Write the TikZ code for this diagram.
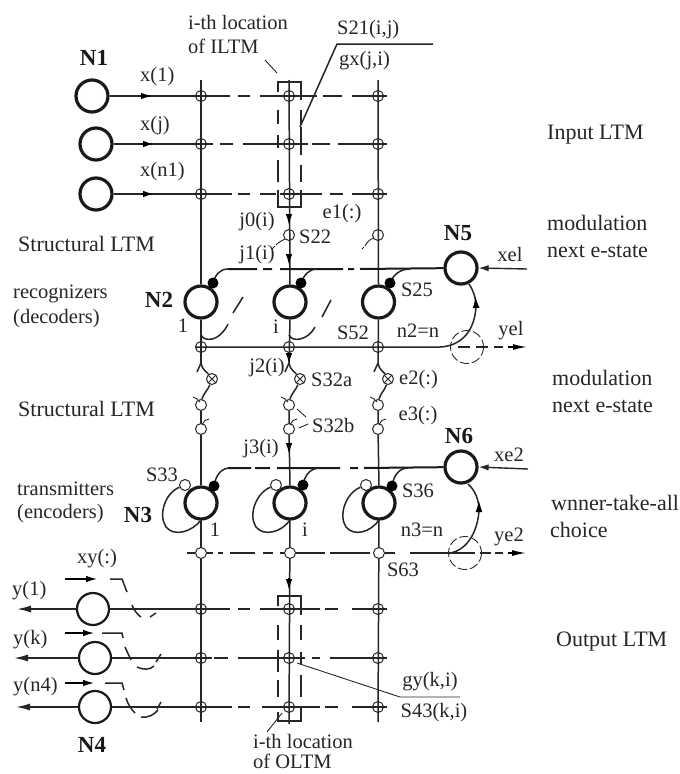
\documentclass[tikz,border=0pt]{standalone}
\usepackage{fontspec}
\setmainfont{Liberation Serif}
\usetikzlibrary{arrows.meta}
\tikzset{
 neuron/.style={circle,draw=black!90,line width=3.2pt,minimum size=32pt,inner sep=0pt,fill=white},
 outneuron/.style={circle,draw=black!90,line width=2.2pt,minimum size=32pt,inner sep=0pt,fill=white},
 syn/.style={circle,draw=black!85,line width=1pt,minimum size=11pt,inner sep=0pt},
 opensyn/.style={syn,fill=white},
 crosssyn/.style={syn,path picture={\draw[line width=1pt] (path picture bounding box.north west)--(path picture bounding box.south east) (path picture bounding box.north east)--(path picture bounding box.south west);}},
 dotsyn/.style={circle,fill=black,minimum size=11pt,inner sep=0pt},
 wire/.style={line width=1.5pt,draw=black!85},
 bus/.style={line width=2pt,draw=black!90},
 thin wire/.style={line width=0.9pt,draw=black!85},
 head/.style={-{Latex[length=11pt,width=6.5pt]},line width=1.2pt},
 lab/.style={inner sep=0pt,font=\fontsize{20.5}{22}\selectfont,text=black!85},
 llab/.style={lab,anchor=west},
 wlab/.style={llab,font=\fontsize{22}{24}\selectfont},
 big/.style={inner sep=0pt,font=\fontsize{23}{25}\selectfont\bfseries,text=black!90},
}
\begin{document}
\begin{tikzpicture}[x=1pt,y=-1pt]
\useasboundingbox (0,0) rectangle (680,774);
\fill[white] (0,0) rectangle (680,774);
% input neurons
\node[neuron] (n11) at (92,96) {};
\node[neuron] (n12) at (96,144) {};
\node[neuron] (n13) at (96,194) {};
% recogniser, transmitter, control neurons
\node[neuron] (n21) at (201,302) {};
\node[neuron] (n22) at (290,302) {};
\node[neuron] (n23) at (378.5,302) {};
\node[neuron] (n5) at (461,268) {};
\node[neuron] (n31) at (201,503) {};
\node[neuron] (n32) at (290,503) {};
\node[neuron] (n33) at (379,503) {};
\node[neuron] (n6) at (461,467) {};
\node[outneuron] (n41) at (93,609) {};
\node[outneuron] (n42) at (95,658) {};
\node[outneuron] (n43) at (95,707) {};
% column end points
\coordinate (c1t) at (201,80); \coordinate (c2t) at (289,80); \coordinate (c3t) at (378,80);
\coordinate (c1b) at (201,722); \coordinate (c2b) at (289,724); \coordinate (c3b) at (378,722);
% crossing synapses
\foreach \n/\x in {a/201,b/289,c/378}{
 \node[syn] (\n1) at (\x,96) {};
 \node[syn] (\n2) at (\x,144) {};
 \node[syn] (\n3) at (\x,194) {};
 \node[syn] (\n5) at (\x,347) {};
 \node[syn] (\n6) at (\x,405) {};
 \node[syn] (\n7) at (\x,429) {};
 \node[syn] (\n9) at (\x,609) {};
 \node[syn] (\n0) at (\x,658) {};
 \node[syn] (\n x) at (\x,707) {};
}
\node[syn] (b4) at (289,235) {};
\node[syn] (c4) at (378,235) {};
\node[crosssyn] (a8) at (212,379) {};
\node[crosssyn] (b8) at (300,379) {};
\node[crosssyn] (c8) at (388,379) {};
% vertical wires
\draw[wire] (c1t) -- (n21.north) (n21.south) -- (201,363) (a6) -- (a7) -- (n31.north) (n31.south) -- (c1b);
\draw[wire] (c2t) -- (n22.north) (n22.south) -- (289,363) (b6) -- (b7) -- (n32.north) (n32.south) -- (c2b);
\draw[wire] (c3t) -- (n23.north) (n23.south) -- (378,363) (c6) -- (c7) -- (n33.north) (n33.south) -- (c3b);
\foreach \n/\x in {a/201,b/289,c/378}{
 \draw[wire] (\x,363) .. controls (\x+1,370) and (\x+6,372) .. (\n8);
 \draw[wire] (\x,363) -- (\x-4,372);
 \draw[wire] (\n8) .. controls (\x+7,390) and (\x+2,394) .. (\n6);
 \draw[thin wire] (\x-8,397) .. controls (\x-5,398) and (\x-3,399) .. (\x-1,402);
 \draw[thin wire] (\x+1,425) .. controls (\x+3,421) and (\x+5,419) .. (\x+8,419);
}
% input rows
\draw[wire] (n11) -- (230,96) (238,96)--(250,96) (260,96)--(317,96) (323,96)--(342,96) (352,96)--(387,96);
\draw[wire] (n12) -- (213,144) (220,144)--(233,144) (243,144)--(308,144) (312,144)--(330,144) (338,144)--(387,144);
\draw[wire] (n13) -- (232,194) (238,194)--(250,194) (260,194)--(276,194) (280,194)--(322,194) (330,194)--(343,194) (352,194)--(387,194);
\foreach \a/\b/\y in {140/152/96,141/154/144,141/154/194}{
 \draw[head] (\a,\y) -- (\b,\y);
}
% ILTM box
\draw[wire] (278,92) -- (278,82) -- (301,82) -- (301,100) (278,110)--(278,124) (301,110)--(301,124) (278,135)--(278,148) (301,135)--(301,155) (278,160)--(278,182) (301,165)--(301,182) (278,190) -- (278,207) -- (301,207) -- (301,190);
% S22 row
\draw[thin wire] (285,239) .. controls (281,241) and (279,242) .. (276,245) (275,246)--(272,249);
\draw[thin wire] (374,238) .. controls (370,239) and (367,242) .. (365,246) (364,247) -- (362,249);
% recogniser bus
\draw[bus] (n5) -- (360,269) (354,269)--(348,269) (343,269)--(280,269) (272,269)--(263,269) (257,269)--(228,269);
\draw[wire] (228,269) .. controls (220,269) and (215,275) .. (213,283);
\draw[wire] (317,269) .. controls (309,269) and (304,275) .. (301,283);
\draw[wire] (410,269) .. controls (400,269) and (393,275) .. (390,283);
\node[dotsyn] (d21) at (213,283) {};
\node[dotsyn] (d22) at (301,283) {};
\node[dotsyn] (d23) at (390,283) {};
\draw[wire] (201,335) .. controls (203,339) and (207,340) .. (212,339) .. controls (218,338) and (225,331) .. (228,324);
\draw[wire] (233,313) -- (243,297);
\draw[wire] (289,335) .. controls (291,339) and (295,340) .. (300,339) .. controls (306,338) and (312,333) .. (315,327);
\draw[wire] (322,317) -- (331,300);
% lower bus and loop to N5
\draw[wire] (195,347) -- (440,347) .. controls (462,346) and (475,330) .. (476,306) .. controls (476,298) and (473,290) .. (469,284);
\coordinate (xel) at (527,269);
\draw[-{Latex[length=10pt,width=6.5pt]},line width=1.4pt,draw=black!85] (xel) -- (n5.east);
\draw[-{Latex[length=11pt,width=7pt]},line width=1pt] (476,306) -- (475.5,297);
\draw[wire] (458,347) -- (470,347) (476,347) -- (488,347) (494,347) -- (503,347);
\draw[-{Latex[length=14pt,width=6pt]},line width=1.4pt] (508,347) -- (527,347);
\draw[thin wire,dash pattern=on 9pt off 3pt] (467,347) circle[radius=16.5];
% transmitter bus
\draw[bus] (n6) -- (364,468) (358,468)--(350,468) (340,468)--(277,468) (270,468)--(255,468) (251,468)--(228,468);
\draw[wire] (230,468) .. controls (222,468) and (216,474) .. (214,486);
\draw[wire] (320,468) .. controls (311,468) and (305,474) .. (303,485);
\draw[wire] (408,468) .. controls (400,468) and (394,474) .. (392,486);
\node[dotsyn] (d31) at (214,486) {};
\node[dotsyn] (d32) at (303,485) {};
\node[dotsyn] (d33) at (392,486) {};
\node[opensyn] (o31) at (185,485) {};
\node[opensyn] (o32) at (276,485) {};
\node[opensyn] (o33) at (366,485) {};
\draw[wire] (o31) .. controls (165,493) and (158,515) .. (166,527) .. controls (174,537) and (192,532) .. (201,520);
\draw[wire] (o32) .. controls (256,493) and (248,515) .. (256,527) .. controls (264,537) and (282,532) .. (290,520);
\draw[wire] (o33) .. controls (346,493) and (338,515) .. (346,527) .. controls (354,537) and (371,532) .. (379,520);
% lower row 553
\node[opensyn] (e1) at (201,553) {};
\node[opensyn] (e2) at (290,553) {};
\node[opensyn] (e3) at (379,553) {};
\draw[wire] (187,553) -- (e1) (e1) -- (213,553) (218,553)--(223,553) (230,553)--(255,553) (263,553)--(273,553) (280,553)--(e2) (e2)--(325,553) (330,553)--(370,553) (e3)--(395,553) (410,553)--(475,553) (480,553) -- (491,553) (495,553) -- (503,553);
\draw[-{Latex[length=14pt,width=6pt]},line width=1.4pt] (508,553) -- (526,553);
\draw[wire] (450,553) .. controls (468,550) and (478,530) .. (479,510) .. controls (479,500) and (475,490) .. (468,484);
\draw[-{Latex[length=11pt,width=7pt]},line width=1pt] (479,511) -- (479,501);
\draw[thin wire,dash pattern=on 9pt off 3pt] (465,553) circle[radius=16.5];
\coordinate (xe2) at (528,469);
\draw[-{Latex[length=10pt,width=6.5pt]},line width=1.4pt,draw=black!85] (xe2) -- (n6.east);
% column arrows
\foreach \a/\b in {214/225,254/265,353/364,443/454,578/590}{
 \draw[head] (289,\a) -- (289,\b);
}
% output rows
\draw[wire,-{Latex[length=14pt,width=7pt]}] (n41) -- (17,609);
\draw[wire,-{Latex[length=14pt,width=7pt]}] (n42) -- (14,658);
\draw[wire,-{Latex[length=14pt,width=7pt]}] (n43) -- (16,707);
\draw[wire] (n41) -- (230,609) (238,609)--(250,609) (260,609)--(320,609) (325,609)--(338,609) (352,609)--(387,609);
\draw[wire] (n42) -- (212,658) (214,658)--(228,658) (238,658)--(305,658) (312,658)--(320,658) (330,658)--(387,658);
\draw[wire] (n43) -- (232,707) (238,707)--(250,707) (262,707)--(320,707) (325,707)--(338,707) (352,707)--(387,707);
% xy(:) gates
\foreach \y/\xe in {579/97,633/94,683/94}{
 \draw[head,line width=1.2pt] (65,\y) -- (\xe,\y);
}
\draw[wire] (110,579)--(122,579)--(127,592) (132,605) .. controls (135,612) and (138,615) .. (141,617) (150,617)--(156,613);
\draw[wire] (102,633)--(122,633)--(123,638) (125,647)--(131,660) (137,667) .. controls (143,670) and (150,670) .. (154,666) (156,662)--(161,654);
\draw[wire] (105,683)--(122,683)--(124,690) (126,698) .. controls (128,705) and (132,710) .. (135,713) (141,717) .. controls (148,718) and (154,715) .. (158,710) (157,709)--(161,702);
% OLTM box
\draw[wire] (278,606) -- (278,596) -- (301,596) -- (301,615) (278,625)--(278,640) (301,625)--(301,640) (278,650)--(278,672) (301,652)--(301,665) (278,680)--(278,697) (301,675)--(301,697) (278,712)--(278,721)--(301,721)--(301,706);
% leaders
\draw[thin wire] (265,60) -- (277,73);
\draw[wire] (433,44) -- (337,44) -- (300,127);
\draw[wire] (301,127) -- (301,139);
\draw[thin wire] (297,409) -- (306,417);
\draw[thin wire] (299,428) -- (308,424);
\draw[thin wire] (297,663) -- (400,697) -- (460,697);
\draw[thin wire] (267,732) -- (282,713);
% labels
\node[big] (tn1) at (94,58) {N1};
\node[big] (tn2) at (159,300) {N2};
\node[big] (tn3) at (138,515) {N3};
\node[big] (tn4) at (92,745) {N4};
\node[big] (tn5) at (458,233) {N5};
\node[big] (tn6) at (459,436) {N6};
\node[llab] (t1) at (188,22) {i-th location};
\node[llab] (t2) at (188,46) {of ILTM};
\node[llab] (t3) at (337,30) {S21(i,j)};
\node[llab] (t4) at (339,61) {gx(j,i)};
\node[llab] (t5) at (140,77) {x(1)};
\node[llab] (t6) at (140,126) {x(j)};
\node[llab] (t7) at (140,172) {x(n1)};
\node[lab] (t8) at (257,222) {j0(i)};
\node[llab] (t9) at (299,237) {S22};
\node[lab] (t10) at (342,214) {e1(:)};
\node[wlab] (t11) at (18,244) {Structural LTM};
\node[llab] (t12) at (13,294) {recognizers};
\node[llab] (t13) at (13,319) {(decoders)};
\node[wlab] (t14) at (18,409) {Structural LTM};
\node[llab] (t15) at (17,489) {transmitters};
\node[llab] (t16) at (17,514) {(encoders)};
\node[lab] (t17) at (257,255) {j1(i)};
\node[lab] (t18) at (417,290) {S25};
\node[lab] (t19) at (353,333) {S52};
\node[lab] (t20) at (418,331) {n2=n};
\node[lab] (t21) at (510,254) {xel};
\node[lab] (t22) at (511,331) {yel};
\node[lab] (t23) at (183,326) {1};
\node[lab] (t24) at (276,327) {i};
\node[lab] (t25) at (267,368) {j2(i)};
\node[llab] (t26) at (311,380) {S32a};
\node[llab] (t27) at (399,380) {e2(:)};
\node[llab] (t28) at (312,425) {S32b};
\node[lab] (t29) at (418,416) {e3(:)};
\node[lab] (t30) at (509,455) {xe2};
\node[lab] (t31) at (261,449) {j3(i)};
\node[lab] (t32) at (418,491) {S36};
\node[lab] (t33) at (422,530) {n3=n};
\node[lab] (t34) at (509,537) {ye2};
\node[lab] (t35) at (403,570) {S63};
\node[lab] (t36) at (215,530) {1};
\node[lab] (t37) at (305,530) {i};
\node[lab] (t38) at (162,475) {S33};
\node[lab] (t39) at (97,559) {xy(:)};
\node[llab] (t40) at (12,591) {y(1)};
\node[llab] (t41) at (13,640) {y(k)};
\node[llab] (t42) at (13,687) {y(n4)};
\node[lab] (t43) at (430,682) {gy(k,i)};
\node[lab] (t44) at (434,713) {S43(k,i)};
\node[llab] (t45) at (253,741) {i-th location};
\node[llab] (t46) at (253,761) {of OLTM};
\node[wlab] (t47) at (547,135) {Input LTM};
\node[wlab] (t48) at (547,223) {modulation};
\node[wlab] (t49) at (547,251) {next e-state};
\node[wlab] (t50) at (552,378) {modulation};
\node[wlab] (t51) at (552,406) {next e-state};
\node[wlab] (t52) at (551,503) {wnner-take-all};
\node[wlab] (t53) at (550,530) {choice};
\node[wlab] (t54) at (556,642) {Output LTM};
\end{tikzpicture}
\end{document}
